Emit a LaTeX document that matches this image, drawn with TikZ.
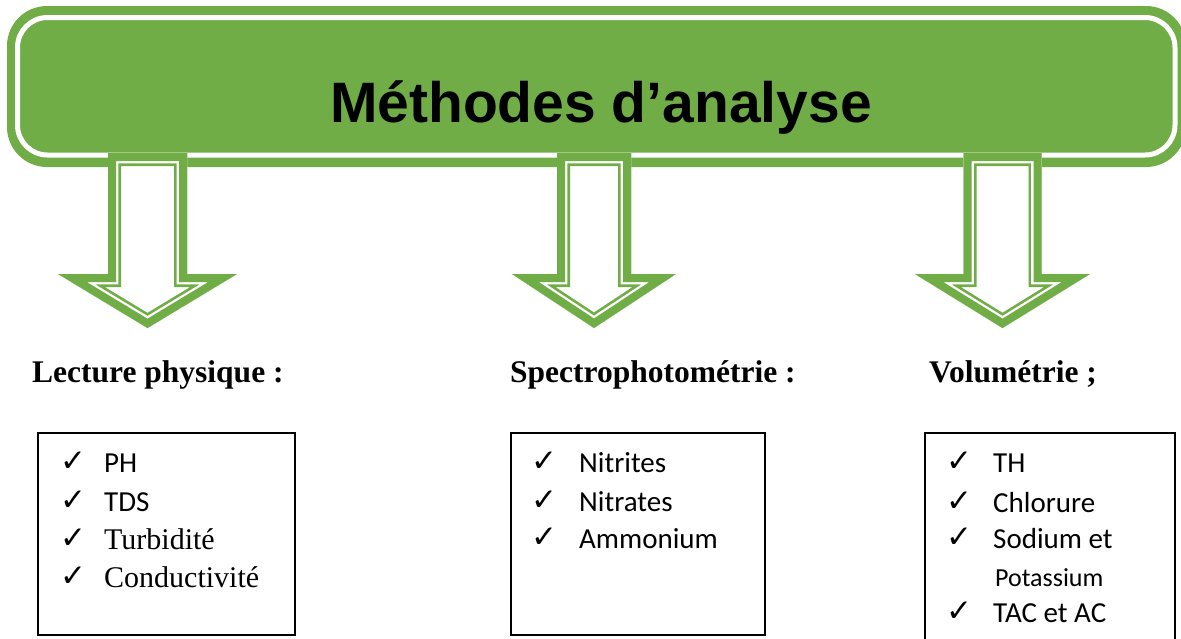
\documentclass[tikz,border=0pt]{standalone}
\usepackage{fontspec}
\setmainfont{Liberation Serif}
\newfontfamily\calfont{Carlito}
\newfontfamily\arialfont{Liberation Sans}
\newfontfamily\symfont{DejaVu Sans}
\definecolor{gr}{HTML}{70AD47}
\tikzset{
  arrshape/.style n args={3}{insert path={(#1-#2,153) -- (#1+#2,153) -- (#1+#2,274) -- (#1+#3,274) -- (#1,328) -- (#1-#3,274) -- (#1-#2,274) -- cycle}},
  lab/.style={anchor=base west, inner sep=0pt, font=\fontsize{31.5}{36}\selectfont\bfseries},
  box/.style={draw=black, line width=1.4pt, inner sep=0pt},
  chk/.style={anchor=base west, inner sep=0pt, font=\symfont\fontsize{31}{36}\selectfont},
  itc/.style={anchor=base west, inner sep=0pt, font=\calfont\fontsize{29}{34}\selectfont},
  itt/.style={anchor=base west, inner sep=0pt, font=\fontsize{30}{34}\selectfont},
}
\newcommand\greenarrow[3]{%
  \fill[gr, arrshape={#1}{#2}{#3}];
  \begin{scope}
    \clip[arrshape={#1}{#2}{#3}];
    \fill[white, arrshape={#1}{#2}{#3}];
    \draw[gr, line width=26pt, line join=miter, arrshape={#1}{#2}{#3}];
    \draw[white, line width=20.6pt, line join=miter, arrshape={#1}{#2}{#3}];
    \draw[gr, line width=16pt, line join=miter, arrshape={#1}{#2}{#3}];
  \end{scope}}
\begin{document}
\begin{tikzpicture}[x=1pt, y=-1pt]
\useasboundingbox (0,0) rectangle (1181,638);
\begin{scope}
\clip (0,0) rectangle (1181,638);
% banner
\fill[gr, rounded corners=40pt] (7,6) rectangle (1186,167);
\draw[white, line width=5pt, rounded corners=30pt] (17.5,17.5) rectangle (1175,155);
% arrows
\greenarrow{147.5}{39.5}{89.5}
\greenarrow{594}{37}{82}
\greenarrow{1002.5}{39}{87.5}
\end{scope}
\node[anchor=base, inner sep=0pt, font=\arialfont\bfseries\fontsize{57}{64}\selectfont] (banner) at (601,122) {Méthodes d’analyse};
% labels
\node[lab] (l1) at (32,382) {Lecture physique :};
\node[lab] (l2) at (510,382) {Spectrophotométrie :};
\node[lab] (l3) at (929,382) {Volumétrie ;};
% boxes
\draw[box] (38,433) rectangle (295,635);
\draw[box] (511,433) rectangle (765,635);
\draw[box] (925,433) rectangle (1175,650);
% box 1
\node[chk] (c11) at (60,471) {✓};
\node[itc] (i11) at (104,472) {PH};
\node[chk] (c12) at (60,510) {✓};
\node[itc] (i12) at (104,511) {TDS};
\node[chk] (c13) at (60,548) {✓};
\node[itt] (i13) at (104,549) {Turbidité};
\node[chk] (c14) at (60,586) {✓};
\node[itt] (i14) at (104,587) {Conductivité};
% box 2
\node[chk] (c21) at (531,471) {✓};
\node[itc] (i21) at (579,472) {Nitrites};
\node[chk] (c22) at (531,510) {✓};
\node[itc] (i22) at (579,511) {Nitrates};
\node[chk] (c23) at (531,547) {✓};
\node[itc] (i23) at (579,548) {Ammonium};
% box 3
\node[chk] (c31) at (946,471) {✓};
\node[itc] (i31) at (993,472) {TH};
\node[chk] (c32) at (946,511) {✓};
\node[itc] (i32) at (993,512) {Chlorure};
\node[chk] (c33) at (946,547) {✓};
\node[itc] (i33) at (993,548) {Sodium et};
\node[itc, font=\calfont\fontsize{26}{30}\selectfont] (i34) at (995,586) {Potassium};
\node[chk] (c35) at (946,621) {✓};
\node[itc] (i35) at (993,622) {TAC et AC};
\end{tikzpicture}
\end{document}
